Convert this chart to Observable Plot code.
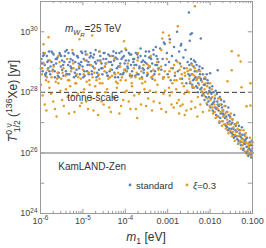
<!DOCTYPE html>
<html><head><meta charset="utf-8">
<script src="https://cdn.jsdelivr.net/npm/d3@7"></script>
<script src="https://cdn.jsdelivr.net/npm/@observablehq/plot@0.6"></script>
<style>body{margin:0;background:#fff}</style>
</head><body><div id="chart"></div>
<script>
// values are [log10 m1 (eV), log10 T1/2 (yr)]
const standardFlat = [[-5.98,29.1],[-5.95,28.7],[-5.93,29.3],[-5.9,28.9],[-5.88,28.55],[-5.85,29.2],[-5.82,28.8],[-5.8,29.35],[-5.77,28.6],[-5.74,29.0],[-5.71,28.75],[-5.69,29.25],[-5.66,28.5],[-5.63,28.95],[-5.6,29.15],[-5.57,28.65],[-5.55,29.3],[-5.52,28.85],[-5.49,29.05],[-5.46,28.55],[-5.43,29.2],[-5.4,28.7],[-5.38,29.4],[-5.35,28.9],[-5.32,28.6],[-5.29,29.1],[-5.27,28.8],[-5.24,29.3],[-5.21,28.5],[-5.18,29.0],[-5.15,28.75],[-5.13,29.2],[-5.1,28.95],[-5.07,28.6],[-5.04,29.35],[-5.01,28.85],[-4.98,29.1],[-4.96,28.55],[-4.93,29.25],[-4.9,28.7],[-4.87,29.0],[-4.84,28.9],[-4.82,29.3],[-4.79,28.6],[-4.76,29.15],[-4.73,28.8],[-4.7,29.4],[-4.68,28.5],[-4.65,29.05],[-4.62,28.75],[-4.59,29.2],[-4.56,28.95],[-4.54,28.6],[-4.51,29.3],[-4.48,28.85],[-4.45,29.1],[-4.42,28.55],[-4.4,29.25],[-4.37,28.7],[-4.34,29.0],[-4.31,28.9],[-4.28,29.35],[-4.26,28.65],[-4.23,29.15],[-4.2,28.8],[-4.17,28.5],[-4.14,29.3],[-4.12,28.95],[-4.09,29.1],[-4.06,28.6],[-4.03,29.2],[-4.0,28.75],[-3.98,29.4],[-3.95,28.85],[-3.92,29.05],[-3.89,28.55],[-3.86,29.25],[-3.84,28.7],[-3.81,29.0],[-3.78,28.9],[-3.75,29.3],[-3.72,28.6],[-3.7,29.15],[-3.67,28.8],[-3.64,29.45],[-3.61,28.5],[-3.58,29.05],[-3.56,28.75],[-3.53,29.2],[-3.5,28.95],[-3.47,28.6],[-3.44,29.35],[-3.42,28.85],[-3.39,29.1],[-3.36,28.45],[-3.33,29.25],[-3.3,28.7],[-3.28,29.5],[-3.25,28.9],[-3.22,29.0],
[-5.965,28.95],[-5.915,29.25],[-5.865,28.65],[-5.815,29.05],[-5.765,28.85],[-5.715,29.3],[-5.665,28.7],[-5.615,29.1],[-5.565,28.5],[-5.515,29.2],[-5.465,28.9],[-5.415,29.35],[-5.365,28.6],[-5.315,29.0],[-5.265,28.8],[-5.215,29.25],[-5.165,28.55],[-5.115,29.15],[-5.065,28.9],[-5.015,29.3],[-4.965,28.7],[-4.915,29.05],[-4.865,28.6],[-4.815,29.2],[-4.765,28.85],[-4.715,29.0],[-4.665,28.65],[-4.615,29.35],[-4.565,28.8],[-4.515,29.1],[-4.465,28.95],[-4.415,28.55],[-4.365,29.2],[-4.315,28.75],[-4.265,29.05],[-4.215,29.3],[-4.165,28.85],[-4.115,28.6],[-4.065,29.15],[-4.015,28.95],[-3.965,28.7],[-3.915,29.3],[-3.865,28.9],[-3.815,29.1],[-3.765,28.55],[-3.715,29.25],[-3.665,28.85],[-3.615,29.0],[-3.565,28.65],[-3.515,29.35],[-3.465,28.8],[-3.415,29.15],[-3.365,28.95],[-3.315,28.6],[-3.265,29.2],[-3.215,28.8],
[-5.99,28.8],[-5.94,29.2],[-5.89,28.6],[-5.84,29.0],[-5.79,28.7],[-5.74,29.35],[-5.69,28.9],[-5.64,29.1],[-5.59,28.55],[-5.54,29.25],[-5.49,28.75],[-5.44,29.0],[-5.39,28.6],[-5.34,29.3],[-5.29,28.85],[-5.24,29.05],[-5.19,28.65],[-5.14,29.2],[-5.09,28.8],[-5.04,29.0],[-4.99,28.5],[-4.94,29.35],[-4.89,28.9],[-4.84,29.15],[-4.79,28.7],[-4.74,29.25],[-4.69,28.95],[-4.64,28.55],[-4.59,29.05],[-4.54,28.8],[-4.49,29.3],[-4.44,28.65],[-4.39,29.0],[-4.34,28.75],[-4.29,29.2],[-4.24,28.5],[-4.19,29.1],[-4.14,28.85],[-4.09,29.35],[-4.04,28.65],[-3.99,29.05],[-3.94,28.8],[-3.89,29.25],[-3.84,28.55],[-3.79,29.1],[-3.74,28.9],[-3.69,28.6],[-3.64,29.2],[-3.59,28.8],[-3.54,29.0],[-3.49,28.55],[-3.44,29.15],[-3.39,28.7],[-3.34,29.4],[-3.29,28.9],[-3.24,29.1]];
const standardRise = [[-3.18,29.45],[-3.15,28.75],[-3.12,29.1],[-3.1,28.5],[-3.07,29.6],[-3.05,28.9],[-3.02,29.3],[-3.0,28.6],[-2.97,29.0],[-2.95,29.75],[-2.93,28.4],[-2.9,29.2],[-2.88,28.8],[-2.85,29.5],[-2.83,28.55],[-2.8,29.05],[-2.78,30.0],[-2.76,28.7],[-2.73,29.35],[-2.71,28.95],[-2.68,29.6],[-2.66,28.45],[-2.63,29.15],[-2.61,28.8],[-2.58,29.4],[-2.56,28.3],[-2.53,29.0],[-2.51,28.6],[-2.5,30.64],[-2.43,29.95],[-2.22,29.78],[-3.09,29.65],[-2.69,29.55],[-2.48,29.7],[-2.46,29.92],[-2.0,28.63],[-1.82,28.73]];
const standardTail = [[-2.49,28.9],[-2.47,28.3],[-2.45,29.1],[-2.43,28.6],[-2.41,28.15],[-2.39,28.85],[-2.37,28.45],[-2.35,29.0],[-2.33,28.2],[-2.31,28.7],[-2.29,28.0],[-2.27,28.5],[-2.25,28.85],[-2.23,28.1],[-2.21,28.4],[-2.19,27.9],[-2.17,28.6],[-2.15,28.25],[-2.13,27.75],[-2.11,28.45],[-2.09,28.0],[-2.07,27.6],[-2.05,28.3],[-2.03,27.85],[-2.01,28.15],[-1.99,27.5],[-1.97,27.95],[-1.95,28.2],[-1.93,27.65],[-1.91,27.35],[-1.89,27.8],[-1.87,28.05],[-1.85,27.45],[-1.83,27.7],[-1.81,27.2],[-1.79,27.55],[-1.77,27.85],[-1.75,27.3],[-1.73,27.6],[-1.71,27.05],[-1.69,27.4],[-1.67,27.7],[-1.65,27.15],[-1.63,26.9],[-1.61,27.35],[-1.59,27.0],[-1.57,27.5],[-1.55,26.8],[-1.53,27.2],[-1.51,26.95],[-1.49,26.65],[-1.47,27.1],[-1.45,26.8],[-1.43,27.25],[-1.41,26.55],[-1.39,26.9],[-1.37,26.7],[-1.35,27.0],[-1.33,26.4],[-1.31,26.75],[-1.29,26.55],[-1.27,26.25],[-1.25,26.85],[-1.23,26.45],[-1.21,26.15],[-1.19,26.6],[-1.17,26.3],[-1.15,26.0],[-1.13,26.5],[-1.11,26.2],[-1.09,25.95],[-1.07,26.35],[-1.05,26.1],[-1.03,25.85],[-1.01,26.25],[-1.0,26.0],
[-2.48,28.55],[-2.44,28.95],[-2.4,28.4],[-2.36,28.7],[-2.32,28.9],[-2.28,28.3],[-2.24,28.6],[-2.2,28.15],[-2.16,27.95],[-2.12,28.25],[-2.08,28.6],[-2.04,27.7],[-2.0,28.0],[-1.96,27.6],[-1.92,28.0],[-1.88,27.5],[-1.84,27.95],[-1.8,27.4],[-1.76,27.15],[-1.72,27.5],[-1.68,27.25],[-1.64,27.55],[-1.6,26.85],[-1.56,27.25],[-1.52,26.7],[-1.48,27.0],[-1.44,26.5],[-1.4,26.75],[-1.36,26.45],[-1.32,26.9],[-1.28,26.35],[-1.24,26.6],[-1.2,26.3],[-1.16,26.45],[-1.12,26.05],[-1.08,26.15],[-1.04,25.95],[-1.02,26.4],
[-2.46,28.75],[-2.42,28.25],[-2.38,29.05],[-2.34,28.5],[-2.3,28.15],[-2.26,28.75],[-2.22,28.45],[-2.18,28.8],[-2.14,28.45],[-2.1,27.85],[-2.06,28.4],[-2.02,28.05],[-1.98,27.8],[-1.94,27.4],[-1.9,27.7],[-1.86,27.25],[-1.82,27.6],[-1.78,27.0],[-1.74,27.75],[-1.7,27.3],[-1.66,26.95],[-1.62,27.2],[-1.58,26.75],[-1.54,27.05],[-1.5,26.8],[-1.46,26.6],[-1.42,26.95],[-1.38,26.55],[-1.34,26.3],[-1.3,26.65],[-1.26,26.5],[-1.22,26.1],[-1.18,26.4],[-1.14,26.2],[-1.1,25.9],[-1.06,26.25],[-1.03,26.05]];
const xiFlat = [[-5.97,28.6],[-5.92,28.95],[-5.87,28.4],[-5.83,28.75],[-5.78,29.05],[-5.74,28.5],[-5.69,28.85],[-5.64,28.35],[-5.6,28.65],[-5.55,29.0],[-5.51,28.45],[-5.46,28.8],[-5.41,28.55],[-5.37,29.1],[-5.32,28.4],[-5.28,28.7],[-5.23,28.95],[-5.18,28.3],[-5.14,28.6],[-5.09,28.85],[-5.05,28.45],[-5.0,28.75],[-4.95,29.05],[-4.91,28.35],[-4.86,28.65],[-4.81,28.9],[-4.77,28.5],[-4.72,28.8],[-4.68,28.4],[-4.63,28.6],[-4.58,29.0],[-4.54,28.3],[-4.49,28.7],[-4.45,28.95],[-4.4,28.45],[-4.35,28.75],[-4.31,28.55],[-4.26,29.1],[-4.22,28.35],[-4.17,28.65],[-4.12,28.85],[-4.08,28.5],[-4.03,28.75],[-3.99,28.4],[-3.94,28.95],[-3.89,28.6],[-3.85,28.3],[-3.8,28.8],[-3.76,28.5],[-3.71,29.05],[-3.66,28.45],[-3.62,28.7],[-3.57,28.9],[-3.53,28.35],[-3.48,28.65],[-3.43,28.85],[-3.39,28.5],[-3.34,28.75],[-3.3,28.4],[-3.25,29.0],[-3.2,28.6],[-3.16,28.85],[-3.11,28.45],[-3.07,28.7],[-3.02,29.1],
[-5.95,27.9],[-5.86,27.4],[-5.79,28.15],[-5.7,27.7],[-5.62,27.2],[-5.53,28.05],[-5.45,27.55],[-5.36,27.85],[-5.3,28.2],[-5.2,27.35],[-5.12,27.95],[-5.03,27.65],[-4.97,28.1],[-4.88,27.45],[-4.8,27.8],[-4.71,28.2],[-4.64,27.25],[-4.56,27.7],[-4.47,28.0],[-4.38,27.5],[-4.29,27.85],[-4.2,28.15],[-4.14,27.3],[-4.05,27.75],[-3.97,28.05],[-3.88,27.45],[-3.79,27.9],[-3.72,27.15],[-3.63,27.6],[-3.55,28.1],[-3.46,27.8],[-3.37,27.4],[-3.28,28.0],[-3.19,27.65],[-3.1,27.95],[-3.04,27.35],
[-5.99,28.25],[-5.9,27.6],[-5.81,28.35],[-5.75,27.95],[-5.66,27.45],[-5.58,28.3],[-5.49,27.75],[-5.4,28.1],[-5.33,27.3],[-5.25,27.9],[-5.16,28.3],[-5.07,27.55],[-4.99,28.0],[-4.92,27.7],[-4.84,28.25],[-4.75,27.4],[-4.66,27.95],[-4.6,28.3],[-4.51,27.6],[-4.43,28.1],[-4.34,27.35],[-4.25,27.8],[-4.18,28.3],[-4.1,27.55],[-4.01,28.0],[-3.92,27.7],[-3.84,28.2],[-3.75,27.45],[-3.68,27.95],[-3.6,28.3],[-3.51,27.55],[-3.42,28.05],[-3.33,27.7],[-3.24,28.25],[-3.15,27.45],[-3.06,28.05],
[-5.96,28.8],[-5.85,28.5],[-5.72,28.7],[-5.61,28.45],[-5.48,28.65],[-5.35,28.4],[-5.22,28.8],[-5.11,28.5],[-4.98,28.6],[-4.85,28.4],[-4.73,28.65],[-4.61,28.45],[-4.48,28.85],[-4.36,28.5],[-4.24,28.6],[-4.11,28.4],[-3.98,28.7],[-3.86,28.5],[-3.73,28.65],[-3.6,28.45],[-3.47,28.9],[-3.35,28.55],[-3.22,28.75],[-3.09,28.5],
[-5.9,29.3],[-5.58,29.2],[-5.25,29.4],[-4.9,29.25],[-4.6,29.35],[-4.33,29.2],[-4.0,29.45],[-3.7,29.3],[-3.4,29.2],[-3.15,29.4],[-5.93,29.59],[-5.81,29.82],[-5.08,29.75],[-4.78,29.88],[-4.03,29.69]];
const xiTail = [[-2.98,28.5],[-2.95,27.9],[-2.92,28.8],[-2.89,28.3],[-2.86,27.5],[-2.83,28.65],[-2.8,28.1],[-2.77,29.0],[-2.74,27.75],[-2.71,28.45],[-2.68,28.85],[-2.65,27.6],[-2.62,28.2],[-2.59,28.55],[-2.56,27.4],[-2.53,28.7],[-2.5,28.0],[-2.47,28.35],[-2.44,27.7],[-2.41,28.6],[-2.38,28.15],[-2.35,27.5],[-2.32,28.4],[-2.29,27.85],[-2.26,28.25],[-2.23,27.6],[-2.2,28.05],[-2.17,27.35],[-2.14,27.9],[-2.11,28.3],[-2.08,27.65],[-2.05,27.95],[-2.02,27.4],[-1.99,27.75],[-1.96,28.1],[-1.93,27.3],[-1.9,27.6],[-1.87,27.15],[-1.84,27.5],[-1.81,27.8],[-1.78,27.05],[-1.75,27.35],[-1.72,26.9],[-1.69,27.2],[-1.66,27.55],[-1.63,26.8],[-1.6,27.1],[-1.57,26.65],[-1.54,26.95],[-1.51,27.3],[-1.48,26.55],[-1.45,26.85],[-1.42,26.4],[-1.39,26.7],[-1.36,27.0],[-1.33,26.3],[-1.3,26.6],[-1.27,26.15],[-1.24,26.45],[-1.21,26.75],[-1.18,26.05],[-1.15,26.35],[-1.12,25.95],[-1.09,26.2],[-1.06,26.5],[-1.03,25.9],[-1.01,26.15],
[-2.97,28.15],[-2.91,27.6],[-2.85,28.9],[-2.79,28.4],[-2.73,27.3],[-2.67,28.6],[-2.61,27.95],[-2.55,28.8],[-2.49,28.45],[-2.43,28.9],[-2.37,28.55],[-2.31,28.7],[-2.25,28.5],[-2.19,28.35],[-2.13,28.1],[-2.07,28.2],[-2.01,27.55],[-1.95,27.85],[-1.89,27.35],[-1.83,27.2],[-1.77,27.6],[-1.71,27.4],[-1.65,26.95],[-1.59,27.35],[-1.53,26.75],[-1.47,27.1],[-1.41,26.6],[-1.35,26.8],[-1.29,26.4],[-1.23,26.25],[-1.17,26.55],[-1.11,26.1],[-1.05,26.3],
[-2.96,28.7],[-2.9,28.0],[-2.84,28.4],[-2.78,27.65],[-2.72,28.75],[-2.66,28.3],[-2.6,28.65],[-2.54,28.05],[-2.48,28.75],[-2.42,28.2],[-2.36,28.8],[-2.3,28.45],[-2.24,28.7],[-2.18,28.0],[-2.12,28.5],[-2.06,27.8],[-2.0,28.3],[-1.94,27.5],[-1.88,27.9],[-1.82,27.45],[-1.76,27.8],[-1.7,27.05],[-1.64,27.3],[-1.58,26.95],[-1.52,27.15],[-1.46,26.7],[-1.4,26.95],[-1.34,26.55],[-1.28,26.75],[-1.22,26.35],[-1.16,26.65],[-1.1,26.3],[-1.04,26.0],[-1.0,26.35],
[-2.7,27.55],[-2.6,27.25],[-2.45,27.45],[-2.3,27.2]];
const xiOutliers = [[-2.36,30.84],[-2.76,30.18],[-3.11,29.98],[-2.97,29.88],[-3.13,29.78],[-2.95,29.65],[-1.49,29.36],[-1.33,29.22],[-1.28,29.02],[-1.49,28.73],[-1.05,28.3],[-1.26,28.17],[-1.14,27.54],[-1.05,27.57],[-1.59,28.37]];

const xTicks = [1e-6, 1e-5, 1e-4, 1e-3, 1e-2, 1e-1];
const xTickLabels = ["10^{-6}", "10^{-5}", "10^{-4}", "0.001", "0.010", "0.100"];
const yTicks = [1e24, 1e26, 1e28, 1e30];
const yTickLabels = ["10^{24}", "10^{26}", "10^{28}", "10^{30}"];
const yDecades = [1e24, 1e25, 1e26, 1e27, 1e28, 1e29, 1e30, 1e31];
const tonneScale = [1e28];
const kamland = [1e26];
const seriesNames = ["standard", "@{ξ}=0.3"];
const colors = ["#5E81B5", "#E19C24"];

const toObj = ([lm, lt]) => ({m1: 10 ** lm, T: 10 ** lt});
const standard = [...standardFlat, ...standardRise, ...standardTail].map(toObj);
const xi = [...xiFlat, ...xiTail, ...xiOutliers].map(toObj);

const xMinor = [];
for (let e = -6; e <= -2; e++) for (let k = 2; k <= 9; k++) xMinor.push(k * 10 ** e);

const X0 = 1e-6, X1 = 0.1, Y0 = 1e24, Y1 = 1e31;
const frameC = "#9a9a9a";

const plot = Plot.plot({
  width: 266, height: 248,
  marginLeft: 40, marginRight: 14, marginTop: 1, marginBottom: 35,
  style: {fontFamily: "'Liberation Sans', Arial, sans-serif", fontSize: "9px", color: "#444", background: "#fff"},
  x: {type: "log", domain: [X0, X1]},
  y: {type: "log", domain: [Y0, Y1]},
  marks: [
    Plot.ruleY(kamland, {stroke: "#6e6e6e", strokeWidth: 1.1}),
    Plot.ruleY(tonneScale, {stroke: "#333", strokeDasharray: "5,3", strokeWidth: 1}),
    Plot.dot(standard, {x: "m1", y: "T", r: 1.25, fill: colors[0], stroke: null}),
    Plot.dot(xi, {x: "m1", y: "T", r: 1.25, fill: colors[1], stroke: null}),
    Plot.ruleX(xTicks, {x: d => d, y1: Y0, y2: 10 ** 24.14, stroke: frameC}),
    Plot.ruleX(xTicks, {x: d => d, y1: 10 ** 30.86, y2: Y1, stroke: frameC}),
    Plot.ruleX(xMinor, {x: d => d, y1: Y0, y2: 10 ** 24.07, stroke: frameC}),
    Plot.ruleX(xMinor, {x: d => d, y1: 10 ** 30.93, y2: Y1, stroke: frameC}),
    Plot.ruleY(yDecades, {y: d => d, x1: X0, x2: 10 ** -5.9, stroke: frameC}),
    Plot.ruleY(yDecades, {y: d => d, x1: 10 ** -1.1, x2: X1, stroke: frameC}),
    Plot.frame({stroke: frameC}),
    Plot.axisX({ticks: xTicks, tickFormat: d => xTickLabels[xTicks.indexOf(d)], tickSize: 0, tickPadding: 4, label: null}),
    Plot.axisY({ticks: yTicks, tickFormat: d => yTickLabels[yTicks.indexOf(d)], tickSize: 0, tickPadding: 3, label: null})
  ]
});

const svg = d3.select(plot);

function rich(el, s, fs) {
  el.text(null);
  const re = /([\^_~@|]+)\{([^}]*)\}|([^\^_~@|{}]+)/g;
  let cur = 0, pendingDx = 0, m;
  while ((m = re.exec(s))) {
    const flags = m[1] || "", txt = m[1] ? m[2] : m[3];
    if (flags.includes("|")) { pendingDx = +txt; continue; }
    const target = flags.includes("^") ? -0.42 * fs : flags.includes("~") ? 0.5 * fs : flags.includes("_") ? 0.28 * fs : 0;
    const size = flags.includes("~") ? 0.6 * fs : (flags.includes("^") || flags.includes("_")) ? 0.72 * fs : fs;
    const t = el.append("tspan").text(txt).attr("font-size", size);
    if (Math.abs(target - cur) > 1e-6) t.attr("dy", target - cur);
    if (pendingDx) { t.attr("dx", pendingDx); pendingDx = 0; }
    if (flags.includes("@")) t.attr("font-style", "italic");
    cur = target;
  }
}

svg.selectAll('g[aria-label="x-axis tick label"] text, g[aria-label="y-axis tick label"] text').each(function() {
  const s = this.textContent;
  if (/[\^_~@|]\{/.test(s)) rich(d3.select(this), s, 9);
});

const sx = plot.scale("x"), sy = plot.scale("y");
const font = "'Liberation Sans', Arial, sans-serif";
function addText(x, y, s, fs, anchor = "start", transform = null) {
  const t = svg.append("text").attr("x", x).attr("y", y).attr("font-family", font)
    .attr("font-size", fs).attr("fill", "#333").attr("text-anchor", anchor);
  if (transform) t.attr("transform", transform).attr("x", 0).attr("y", 0);
  rich(t, s, fs);
  return t;
}
addText(sx.apply(10 ** -5.41), sy.apply(10 ** 29.98), "@{m}_@{W}~@{R}=25 TeV", 10);
addText(sx.apply(10 ** -5.36), sy.apply(10 ** 27.7), "tonne-scale", 10);
addText(sx.apply(10 ** -5.57), sy.apply(10 ** 25.42), "KamLAND-Zen", 10);
addText(0, 0, "@{m}_{1} [eV]", 12, "middle", "translate(146,241)");
addText(0, 0, "@{T}^{0 ν}|{-9}_{1/2} (^{136}Xe) [yr]", 12, "middle", "translate(17,101) rotate(-90)");
const legendX = [130, 187];
legendX.forEach((lx, i) => {
  svg.append("circle").attr("cx", lx).attr("cy", 185).attr("r", 1.4).attr("fill", colors[i]);
  addText(lx + 6, 188.5, seriesNames[i], 9.5);
});

document.getElementById("chart").appendChild(plot);
</script>
</body></html>
